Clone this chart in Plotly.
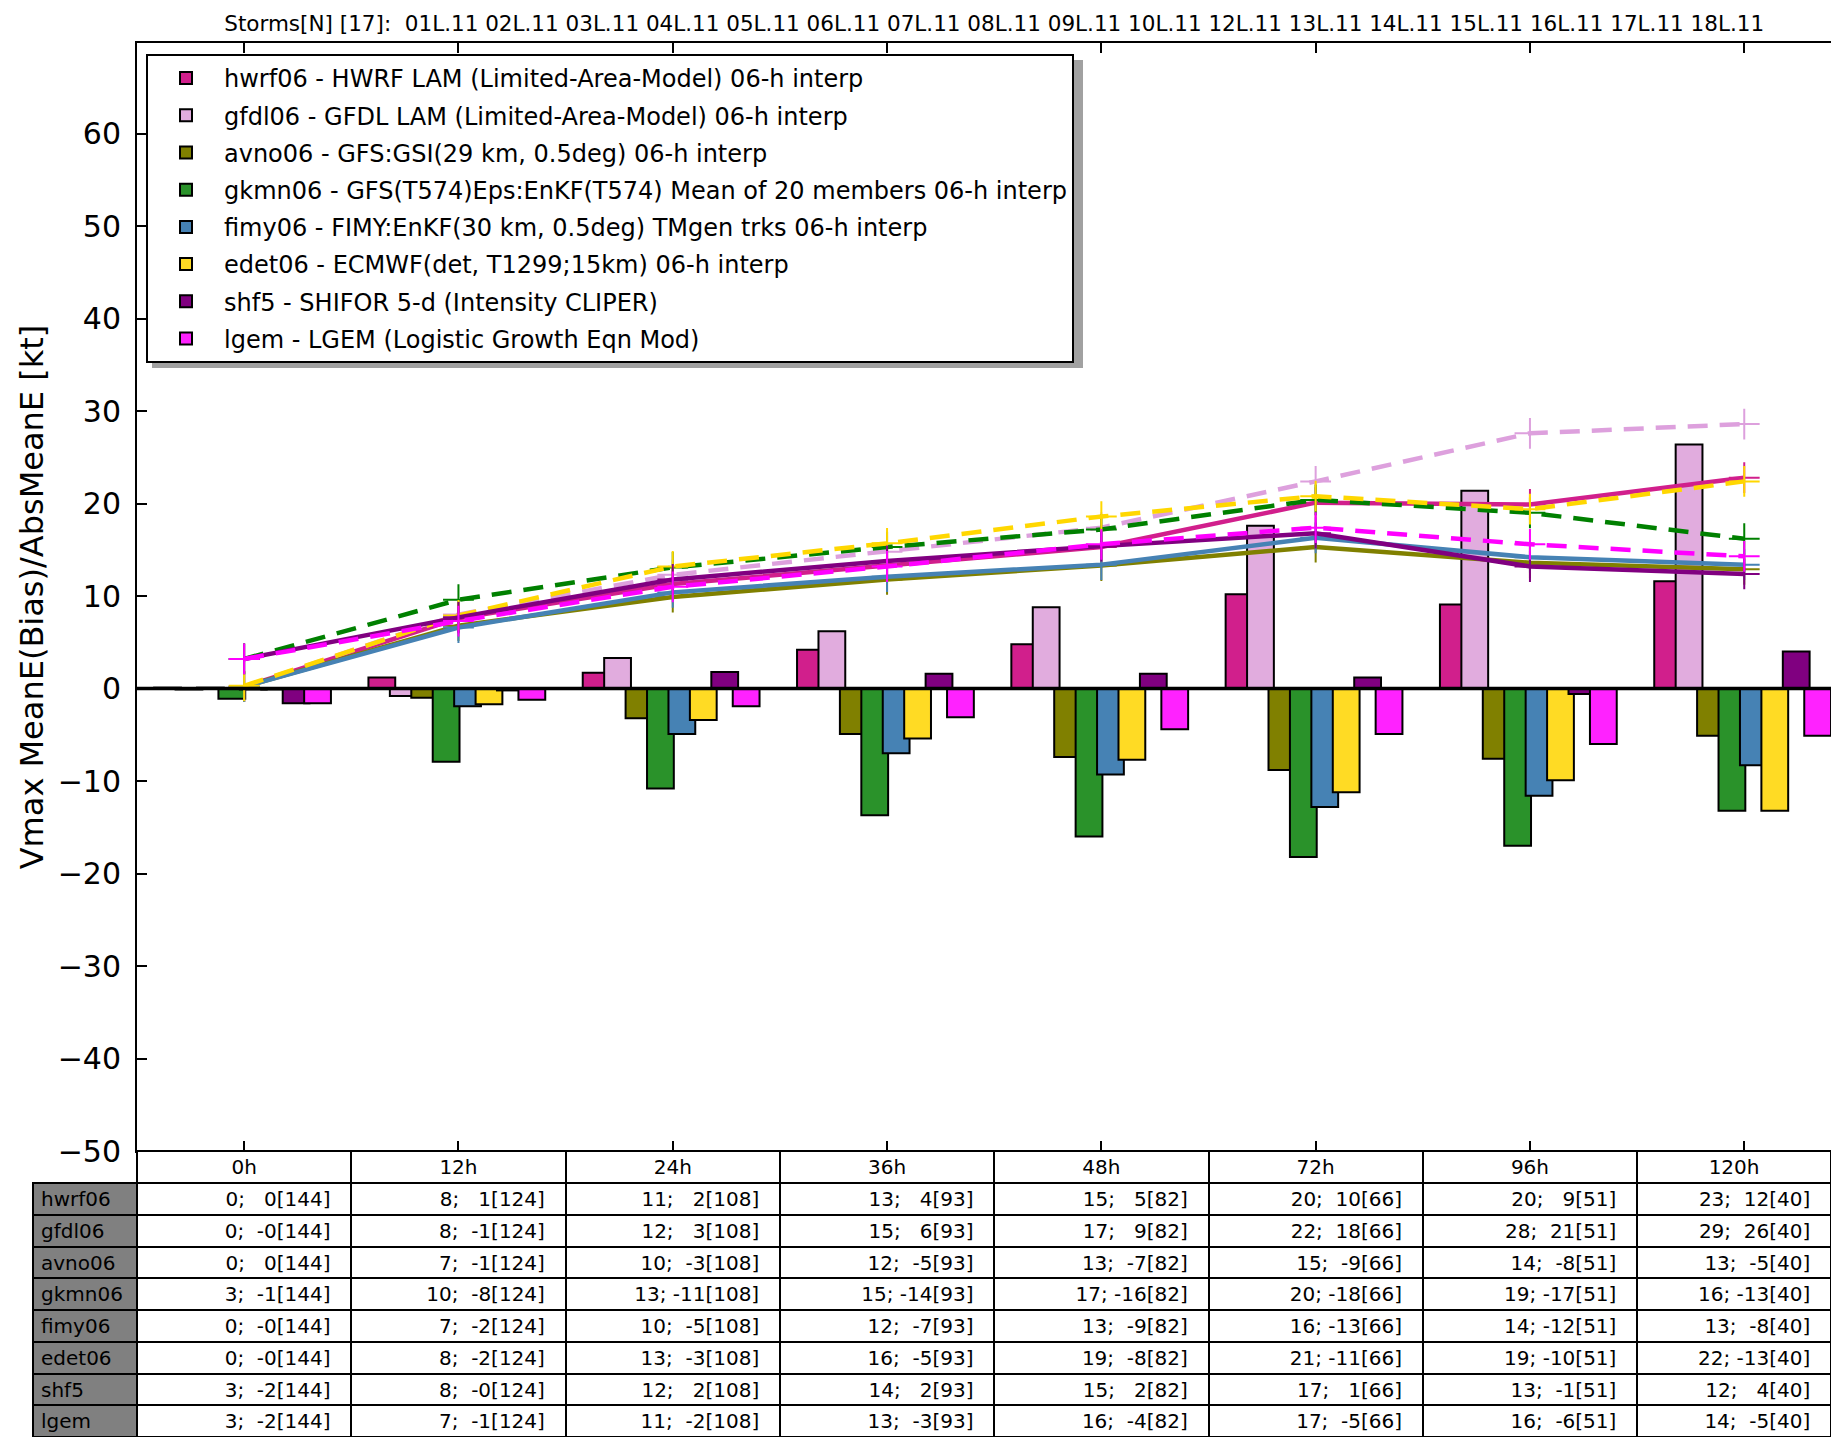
import plotly.graph_objects as go

W, H = 1831, 1437

# ---------------- data ----------------
lead_times = ["0h", "12h", "24h", "36h", "48h", "72h", "96h", "120h"]
n_cases = [144, 124, 108, 93, 82, 66, 51, 40]
storms = ["01L.11", "02L.11", "03L.11", "04L.11", "05L.11", "06L.11", "07L.11", "08L.11",
          "09L.11", "10L.11", "12L.11", "13L.11", "14L.11", "15L.11", "16L.11", "17L.11", "18L.11"]

models = ["hwrf06", "gfdl06", "avno06", "gkmn06", "fimy06", "edet06", "shf5", "lgem"]
descriptions = [
    "HWRF LAM (Limited-Area-Model) 06-h interp",
    "GFDL LAM (Limited-Area-Model) 06-h interp",
    "GFS:GSI(29 km, 0.5deg) 06-h interp",
    "GFS(T574)Eps:EnKF(T574) Mean of 20 members 06-h interp",
    "FIMY:EnKF(30 km, 0.5deg) TMgen trks 06-h interp",
    "ECMWF(det, T1299;15km) 06-h interp",
    "SHIFOR 5-d (Intensity CLIPER)",
    "LGEM (Logistic Growth Eqn Mod)",
]

# absolute mean error (lines)
hwrf06_abs = [0.2, 7.6, 11.3, 13.3, 15.3, 20.1, 19.9, 22.8]
gfdl06_abs = [0.2, 8.0, 12.3, 14.8, 17.4, 22.4, 27.6, 28.6]
avno06_abs = [0.2, 6.8, 9.9, 11.8, 13.3, 15.3, 13.6, 12.9]
gkmn06_abs = [3.2, 9.6, 13.1, 15.3, 17.2, 20.4, 19.0, 16.2]
fimy06_abs = [0.2, 6.6, 10.4, 12.1, 13.4, 16.3, 14.2, 13.4]
edet06_abs = [0.3, 7.9, 13.2, 15.7, 18.6, 20.8, 19.4, 22.4]
shf5_abs = [3.2, 7.7, 11.8, 13.8, 15.4, 16.8, 13.2, 12.4]
lgem_abs = [3.2, 7.3, 11.0, 13.2, 15.6, 17.4, 15.6, 14.3]

# mean error / bias (bars)
hwrf06_bias = [0.1, 1.2, 1.7, 4.2, 4.8, 10.2, 9.1, 11.6]
gfdl06_bias = [-0.1, -0.8, 3.3, 6.2, 8.8, 17.6, 21.4, 26.4]
avno06_bias = [0.1, -1.0, -3.2, -4.9, -7.4, -8.8, -7.6, -5.1]
gkmn06_bias = [-1.1, -7.9, -10.8, -13.7, -16.0, -18.2, -17.0, -13.2]
fimy06_bias = [-0.1, -1.9, -4.9, -7.0, -9.3, -12.8, -11.6, -8.3]
edet06_bias = [-0.1, -1.7, -3.4, -5.4, -7.7, -11.2, -9.9, -13.2]
shf5_bias = [-1.6, -0.2, 1.8, 1.6, 1.6, 1.2, -0.6, 4.0]
lgem_bias = [-1.6, -1.2, -1.9, -3.1, -4.4, -4.9, -6.0, -5.1]

abs_all = [hwrf06_abs, gfdl06_abs, avno06_abs, gkmn06_abs, fimy06_abs, edet06_abs, shf5_abs, lgem_abs]
bias_all = [hwrf06_bias, gfdl06_bias, avno06_bias, gkmn06_bias, fimy06_bias, edet06_bias, shf5_bias, lgem_bias]

# ---------------- styles ----------------
bar_colors = ["#D11F8C", "#E1ACDE", "#808000", "#2A922A", "#4682B4", "#FFDB24", "#800080", "#FF22FF"]
line_colors = ["#D11F8C", "#DDA0DD", "#808000", "#008000", "#4682B4", "#FFD700", "#800080", "#FF00FF"]
line_dash = ["solid", "20px,12px", "solid", "20px,12px", "solid", "20px,12px", "solid", "20px,12px"]

FONT = "DejaVu Sans, Bitstream Vera Sans, sans-serif"
NB = "\u00a0"
CLEAR = "rgba(0,0,0,0)"

x_pos = list(range(len(lead_times)))
bar_w = 0.125
bar_step = 0.1
bar_start = -0.42

fig = go.Figure()

for i, m in enumerate(models):
    fig.add_trace(go.Bar(
        x=x_pos, y=bias_all[i],
        name=f"{m} - {descriptions[i]}",
        width=bar_w, offset=bar_start + bar_step * i,
        marker=dict(color=bar_colors[i], line=dict(color="black", width=2)),
        showlegend=True, legendgroup=m,
    ))

for i, m in enumerate(models):
    fig.add_trace(go.Scatter(
        x=x_pos, y=abs_all[i], mode="lines+markers",
        line=dict(color=line_colors[i], width=4.5, dash=line_dash[i]),
        marker=dict(symbol="cross-thin", size=22, line=dict(color=line_colors[i], width=2)),
        showlegend=False, hoverinfo="skip", legendgroup=m,
    ))

# ---------------- table ----------------
def cell_text(a, b, n):
    return (f"{a:.0f};{b:4.0f}[{n}]").replace(" ", NB) + NB * 2

col_values = [models]
for j in range(len(lead_times)):
    col_values.append([cell_text(abs_all[i][j], bias_all[i][j], n_cases[j]) for i in range(len(models))])

ax_left = 137
col_w = 214.3
tab_left = 33
last_w = W - ax_left - col_w * 7
col_widths = [ax_left - tab_left] + [col_w] * 7 + [last_w]

tab_h = 286
fig.add_trace(go.Table(
    domain=dict(x=[tab_left / W, 1], y=[0, tab_h / H]),
    columnwidth=col_widths,
    header=dict(
        values=[""] + lead_times,
        height=32,
        fill=dict(color=[CLEAR] + ["white"] * 8),
        line=dict(color=[CLEAR] + ["black"] * 8, width=2),
        align="center",
        font=dict(family=FONT, size=20, color="black"),
    ),
    cells=dict(
        values=col_values,
        height=31.75,
        fill=dict(color=[["#808080"] * 8] + [["white"] * 8] * 8),
        line=dict(color="black", width=2),
        align=["left"] + ["right"] * 8,
        font=dict(family=FONT, size=20, color="black"),
    ),
))

# ---------------- layout ----------------
plot_top = 43
y_dom = [tab_h / H, 1 - plot_top / H]
x_dom = [ax_left / W, 1]
x_right = -0.5 + (W - ax_left) / col_w

fig.update_layout(
    width=W, height=H, autosize=False,
    margin=dict(l=0, r=0, t=0, b=0, pad=0, autoexpand=False),
    paper_bgcolor="white", plot_bgcolor="white",
    barmode="overlay",
    font=dict(family=FONT, color="black"),
    title=dict(
        text="Storms[N] [17]:" + NB * 2 + " ".join(storms),
        x=(ax_left + ax_left + 8 * col_w) / 2 / W, xanchor="center",
        y=1 - 23.5 / H, yanchor="middle", yref="container",
        font=dict(family=FONT, size=21.5, color="black"),
    ),
    xaxis=dict(
        domain=x_dom, range=[-0.5, x_right], automargin=False,
        tickvals=x_pos, showticklabels=False,
        ticks="inside", ticklen=10, tickwidth=1.5, tickcolor="black",
        showline=True, linecolor="black", linewidth=2, mirror="ticks",
        showgrid=False, zeroline=False,
    ),
    yaxis=dict(
        domain=y_dom, range=[-50, 69.8], automargin=False,
        tickvals=list(range(-50, 61, 10)),
        ticks="inside", ticklen=10, tickwidth=1.5, tickcolor="black",
        showline=True, linecolor="black", linewidth=2, mirror=False,
        showgrid=False, zeroline=False,
        tickfont=dict(family=FONT, size=30, color="black"),
        ticklabelstandoff=8,
        title=dict(text="Vmax MeanE(Bias)/AbsMeanE [kt]",
                   font=dict(family=FONT, size=32, color="black"), standoff=4),
    ),
    legend=dict(
        x=146 / W, y=1 - 54 / H, xanchor="left", yanchor="top",
        bgcolor="white", bordercolor="black", borderwidth=2,
        font=dict(family=FONT, size=24, color="black"),
        itemwidth=66, tracegroupgap=3, traceorder="grouped",
    ),
    shapes=[
        dict(type="rect", xref="paper", yref="paper",
             x0=152 / W, x1=1083 / W, y0=1 - 368 / H, y1=1 - 60 / H,
             fillcolor="rgba(110,110,110,0.65)", line=dict(width=0), layer="above"),
        dict(type="line", xref="x domain", x0=0, x1=1, yref="y", y0=0, y1=0,
             line=dict(color="black", width=3.5), layer="above"),
    ],
)

fig.write_html("out.html")
